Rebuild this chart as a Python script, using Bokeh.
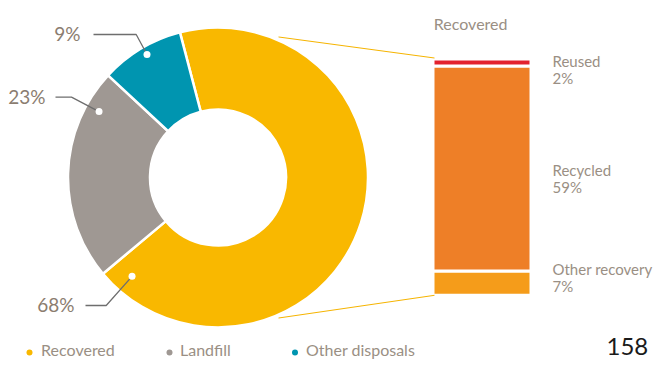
import numpy as np
from bokeh.plotting import figure
from bokeh.models import Range1d
from bokeh.core.properties import value
from bokeh.embed import file_html
from bokeh.resources import INLINE

# ---------------- data ----------------
donut_categories = ["Recovered", "Landfill", "Other disposals"]
donut_values = [68, 23, 9]
donut_labels = ["68%", "23%", "9%"]
donut_colors = ["#F9B800", "#9F9893", "#0095B0"]

bar_categories = ["Other recovery", "Recycled", "Reused"]   # bottom -> top
bar_values = [7, 59, 2]
bar_labels = ["7%", "59%", "2%"]
bar_colors = ["#F59C1A", "#EE7F27", "#E3222E"]
bar_title = "Recovered"
page_number = "158"

# ---------------- layout (picture pixel coordinates, y down) ----------------
W, H = 654, 363
TEXT_DY = 8  # compensation for renderer baseline placement

def X(px):
    return px
def Y(py):
    return H - py
def TY(py):
    return H - py + TEXT_DY

FONT = value("Lato")
TXT = "#9A8F84"
PCT = "#8B7D70"

p = figure(width=W, height=H, output_backend="svg", toolbar_location=None,
           x_axis_location=None, y_axis_location=None,
           x_range=Range1d(0, W), y_range=Range1d(0, H),
           min_border=0, outline_line_color=None)
p.grid.visible = False
p.background_fill_color = "white"
p.border_fill_color = "white"

# donut
cx, cy = X(217.5), Y(177)
r_out, r_in = 150, 68
start0 = 104.7  # degrees, boundary between last and first slice
tot = sum(donut_values)
ends = start0 - np.cumsum(donut_values) / tot * 360.0
starts = np.concatenate([[start0], ends[:-1]])
p.annular_wedge(x=cx, y=cy, inner_radius=r_in, outer_radius=r_out,
                start_angle=np.radians(starts), end_angle=np.radians(ends),
                direction="clock", fill_color=donut_colors,
                line_color="white", line_width=2.5)

# leader lines + labels
anchor_ang = [229, 151, 120]
anchor_rad = [131, 136, 142]
elbow_x = [105.7, 71, 135.7]
line_y = [305, 96.7, 34]
line_x0 = [85, 55, 93]
text_rx = [74, 45, 80]
text_base = [311.7, 104, 40.7]
for i in range(3):
    a = np.radians(anchor_ang[i])
    dx = cx + anchor_rad[i] * np.cos(a)
    dy = cy + anchor_rad[i] * np.sin(a)
    p.line([X(line_x0[i]), X(elbow_x[i]), dx], [Y(line_y[i]), Y(line_y[i]), dy],
           line_color="#6E6E6E", line_width=1.3)
    p.scatter([dx], [dy], size=7, fill_color="white", line_color=None)
    p.text([X(text_rx[i])], [TY(text_base[i])], text=[donut_labels[i]],
           text_font=FONT, text_font_size="19px", text_color=PCT,
           text_align="right", text_baseline="alphabetic")

# stacked bar
bar_left, bar_right = X(432.5), X(530.5)
bar_bottom, bar_height = Y(294.8), 236.3
scale = bar_height / sum(bar_values)
bottoms = bar_bottom + np.concatenate([[0], np.cumsum(bar_values)[:-1]]) * scale
tops = bar_bottom + np.cumsum(bar_values) * scale
p.quad(left=bar_left, right=bar_right, bottom=bottoms, top=tops,
       fill_color=bar_colors, line_color="white", line_width=3)

# connector lines
for sgn, bar_y in [(1, tops[-1] + 1), (-1, bar_bottom)]:
    a = np.radians(66.7 * sgn)
    sx = cx + 153 * np.cos(a)
    sy = cy + 153 * np.sin(a)
    p.line([sx, bar_left + 1.5], [sy, bar_y], line_color="#F6B400", line_width=1)

# bar labels
lab_x = X(552)
name_base = [276.7, 177, 68.3]
pct_base = [293.3, 194, 85]
for i in range(3):
    p.text([lab_x], [TY(name_base[i])], text=[bar_categories[i]], text_font=FONT,
           text_font_size="15px", text_color=TXT, text_baseline="alphabetic")
    p.text([lab_x], [TY(pct_base[i])], text=[bar_labels[i]], text_font=FONT,
           text_font_size="15px", text_color=TXT, text_baseline="alphabetic")

p.text([X(433.3)], [TY(30.7)], text=[bar_title], text_font=FONT,
       text_font_size="16px", text_color=TXT, text_baseline="alphabetic")

# legend
leg_dot_x = [29, 169, 294.5]
leg_txt_x = [40.6, 179.5, 305.5]
leg_base = 357
for i in range(3):
    p.scatter([X(leg_dot_x[i])], [Y(leg_base - 5)], size=6,
              fill_color=donut_colors[i], line_color=None)
    p.text([X(leg_txt_x[i])], [TY(leg_base)], text=[donut_categories[i]], text_font=FONT,
           text_font_size="16px", text_color=TXT, text_baseline="alphabetic")

# page number
p.text([X(606)], [TY(354)], text=[page_number], text_font=FONT,
       text_font_size="24px", text_color="#1A1A1A", text_baseline="alphabetic")

open("out.html", "w").write(file_html(p, INLINE))
